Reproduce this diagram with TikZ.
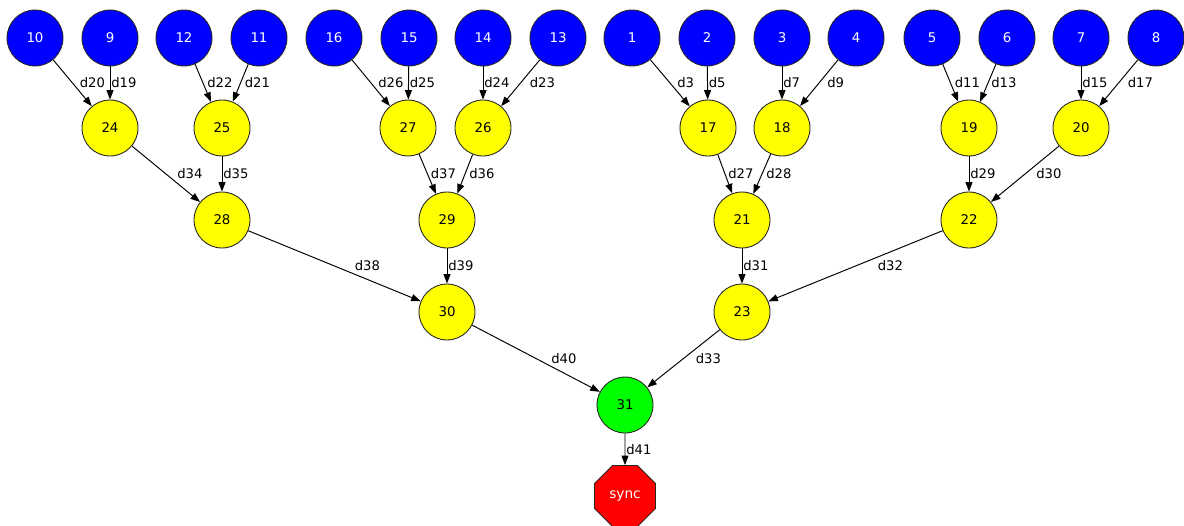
\documentclass[tikz,border=0pt]{standalone}
\usepackage{fontspec}
\setmainfont{DejaVu Sans}
\usetikzlibrary{positioning, shapes.geometric, arrows.meta}
\usepackage{xcolor}

\definecolor{leafblue}{RGB}{0,0,255}
\definecolor{joinyellow}{RGB}{255,255,0}
\definecolor{rootgreen}{RGB}{0,255,0}
\definecolor{syncred}{RGB}{255,0,0}

\tikzset{
  tasknode/.style={circle, draw=black!85, line width=0.5pt, minimum size=1.12cm, inner sep=0pt,
    font=\fontsize{7.6}{9}\selectfont},
  leafnode/.style={tasknode, fill=leafblue, text=white},
  joinnode/.style={tasknode, fill=joinyellow, text=black},
  rootnode/.style={tasknode, fill=rootgreen, text=black},
  syncnode/.style={regular polygon, regular polygon sides=8, draw=black!85, line width=0.5pt,
    minimum size=1.32cm, inner sep=0pt, fill=syncred, text=white, font=\fontsize{7.8}{9}\selectfont},
  dep/.style={draw=black, line width=0.55pt, -{Triangle[length=0.19cm, width=0.14cm]}},
  dlabel/.style={midway, anchor=west, inner sep=0.5pt, text=black, font=\fontsize{7.5}{9}\selectfont}
}

\begin{document}
\begin{tikzpicture}[x=0.02cm, y=-0.02cm] % 1 unit = 1 px of the reference

\useasboundingbox (0,0) rectangle (1184,525);

% top row
\node[leafnode] (n10) at (35,38) {10};
\node[leafnode] (n9) at (110,38) {9};
\node[leafnode] (n12) at (184,38) {12};
\node[leafnode] (n11) at (259,38) {11};
\node[leafnode] (n16) at (334,38) {16};
\node[leafnode] (n15) at (409,38) {15};
\node[leafnode] (n14) at (483,38) {14};
\node[leafnode] (n13) at (558,38) {13};
\node[leafnode] (n1) at (632,38) {1};
\node[leafnode] (n2) at (707,38) {2};
\node[leafnode] (n3) at (782,38) {3};
\node[leafnode] (n4) at (856,38) {4};
\node[leafnode] (n5) at (932,38) {5};
\node[leafnode] (n6) at (1007,38) {6};
\node[leafnode] (n7) at (1081,38) {7};
\node[leafnode] (n8) at (1156,38) {8};

% second row
\node[joinnode] (n24) at (110,128) {24};
\node[joinnode] (n25) at (222,128) {25};
\node[joinnode] (n27) at (408,128) {27};
\node[joinnode] (n26) at (483,128) {26};
\node[joinnode] (n17) at (708,128) {17};
\node[joinnode] (n18) at (782,128) {18};
\node[joinnode] (n19) at (969,128) {19};
\node[joinnode] (n20) at (1081,128) {20};

% third row
\node[joinnode] (n28) at (222,220) {28};
\node[joinnode] (n29) at (447,220) {29};
\node[joinnode] (n21) at (742,220) {21};
\node[joinnode] (n22) at (969,220) {22};

% fourth row
\node[joinnode] (n30) at (447,312) {30};
\node[joinnode] (n23) at (742,312) {23};

\node[rootnode] (n31) at (625,405) {31};
\node[syncnode] (sync) at (625,496) {sync};

\draw[dep] (n10) -- node[dlabel, xshift=0.12cm] {d20} (n24);
\draw[dep] (n9) -- node[dlabel] {d19} (n24);
\draw[dep] (n12) -- node[dlabel, xshift=0.06cm] {d22} (n25);
\draw[dep] (n11) -- node[dlabel, xshift=0.06cm] {d21} (n25);
\draw[dep] (n16) -- node[dlabel, xshift=0.12cm] {d26} (n27);
\draw[dep] (n15) -- node[dlabel] {d25} (n27);
\draw[dep] (n14) -- node[dlabel] {d24} (n26);
\draw[dep] (n13) -- node[dlabel, xshift=0.16cm] {d23} (n26);
\draw[dep] (n1) -- node[dlabel, xshift=0.12cm] {d3} (n17);
\draw[dep] (n2) -- node[dlabel] {d5} (n17);
\draw[dep] (n3) -- node[dlabel] {d7} (n18);
\draw[dep] (n4) -- node[dlabel, xshift=0.14cm] {d9} (n18);
\draw[dep] (n5) -- node[dlabel, xshift=0.06cm] {d11} (n19);
\draw[dep] (n6) -- node[dlabel, xshift=0.04cm] {d13} (n19);
\draw[dep] (n7) -- node[dlabel] {d15} (n20);
\draw[dep] (n8) -- node[dlabel, xshift=0.16cm] {d17} (n20);

\draw[dep] (n24) -- node[dlabel, xshift=0.2cm] {d34} (n28);
\draw[dep] (n25) -- node[dlabel] {d35} (n28);
\draw[dep] (n27) -- node[dlabel, xshift=0.04cm] {d37} (n29);
\draw[dep] (n26) -- node[dlabel, xshift=0.06cm] {d36} (n29);
\draw[dep] (n17) -- node[dlabel, xshift=0.04cm] {d27} (n21);
\draw[dep] (n18) -- node[dlabel, xshift=0.06cm] {d28} (n21);
\draw[dep] (n19) -- node[dlabel] {d29} (n22);
\draw[dep] (n20) -- node[dlabel, xshift=0.2cm] {d30} (n22);

\draw[dep] (n28) -- node[dlabel, xshift=0.38cm] {d38} (n30);
\draw[dep] (n29) -- node[dlabel] {d39} (n30);
\draw[dep] (n21) -- node[dlabel] {d31} (n23);
\draw[dep] (n22) -- node[dlabel, xshift=0.42cm] {d32} (n23);

\draw[dep] (n30) -- node[dlabel, xshift=0.28cm] {d40} (n31);
\draw[dep] (n23) -- node[dlabel, xshift=0.22cm] {d33} (n31);
\draw[dep] (n31) -- node[dlabel] {d41} (sync);

\end{tikzpicture}
\end{document}
